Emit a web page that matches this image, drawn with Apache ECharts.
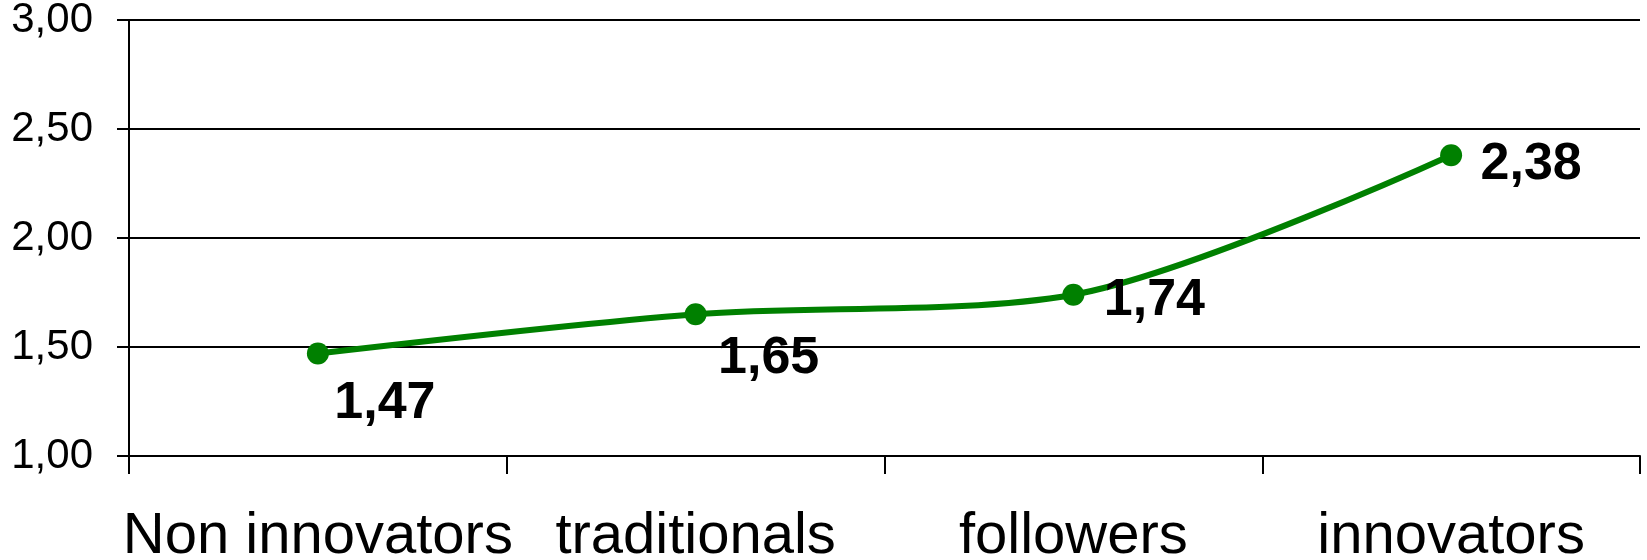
<!DOCTYPE html>
<html>
<head>
<meta charset="utf-8">
<script src="https://cdn.jsdelivr.net/npm/echarts@6/dist/echarts.min.js"></script>
<style>
html,body{margin:0;padding:0;background:#fff;}
#chart{width:1647px;height:560px;}
</style>
</head>
<body>
<div id="chart"></div>
<script>
// data
var categories = ['Non innovators', 'traditionals', 'followers', 'innovators'];
var values = [1.47, 1.65, 1.74, 2.38];
var yTicks = [1.00, 1.50, 2.00, 2.50, 3.00];

// label offsets from the dot (px)
var labelOffsets = [[67, 50], [73, 44], [81, 6], [80, 9]];

function comma(v) { return v.toFixed(2).replace('.', ','); }

var myChart = echarts.init(document.getElementById('chart'));
var option = {
  animation: false,
  backgroundColor: '#fff',
  grid: {
    left: 129,
    right: 7,
    top: 20,
    bottom: 104,
    outerBoundsMode: 'none'
  },
  xAxis: {
    type: 'category',
    data: categories,
    boundaryGap: true,
    axisLine: {lineStyle: {color: '#000', width: 2}},
    axisTick: {show: true, interval: 0, length: 18, lineStyle: {color: '#000', width: 2}},
    axisLabel: {
      interval: 0,
      hideOverlap: false,
      color: '#000',
      fontSize: 58,
      fontFamily: 'Liberation Sans',
      margin: 52
    },
    splitLine: {show: false}
  },
  yAxis: {
    type: 'value',
    min: yTicks[0],
    max: yTicks[yTicks.length - 1],
    interval: 0.5,
    axisLine: {show: true, lineStyle: {color: '#000', width: 2}},
    axisTick: {show: true, length: 12, lineStyle: {color: '#000', width: 2}},
    axisLabel: {
      color: '#000',
      fontSize: 42,
      fontFamily: 'Liberation Sans',
      margin: 36,
      padding: [10, 0, 0, 0],
      formatter: function (v) { return comma(v); }
    },
    splitLine: {show: true, lineStyle: {color: '#000', width: 2}}
  },
  series: [{
    type: 'line',
    smooth: 0.3,
    symbol: 'circle',
    symbolSize: 22,
    lineStyle: {color: '#008000', width: 6},
    itemStyle: {color: '#008000'},
    data: values.map(function (v, i) {
      return {
        value: v,
        label: {
          show: true,
          position: 'inside',
          offset: labelOffsets[i],
          color: '#000',
          fontSize: 52,
          fontWeight: 'bold',
          fontFamily: 'Liberation Sans',
          formatter: function (p) { return comma(p.value); }
        }
      };
    })
  }]
};
myChart.setOption(option);
window.addEventListener("resize", function () {
  myChart.resize();
});
</script>
</body>
</html>
